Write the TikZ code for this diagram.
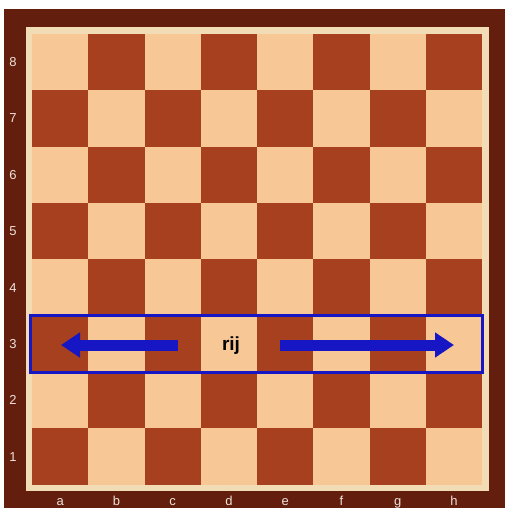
\documentclass[tikz,border=0pt]{standalone}
\usepackage{fontspec}
\setmainfont{Liberation Sans}
\usetikzlibrary{positioning, arrows.meta}

\definecolor{frameWood}{RGB}{100,30,13}
\definecolor{edgeWood}{RGB}{242,220,182}
\definecolor{lightSquare}{RGB}{248,199,150}
\definecolor{darkSquare}{RGB}{166,64,30}
\definecolor{markBlue}{RGB}{22,22,196}
\definecolor{labelGrey}{RGB}{236,226,216}

\begin{document}
\begin{tikzpicture}[
    x=1pt, y=-1pt,
    square/.style={
        minimum width=56.25pt,
        minimum height=56.35pt,
        inner sep=0pt,
        draw=none
    },
    coordlabel/.style={
        text=labelGrey,
        font=\fontsize{13}{13}\selectfont,
        inner sep=0pt
    },
    rowbox/.style={
        draw=markBlue,
        line width=3pt,
        minimum width=452pt,
        minimum height=57pt,
        inner sep=0pt
    },
    moveline/.style={
        draw=markBlue,
        line width=11pt,
        -{Triangle[length=19pt,width=24pt]}
    }
]

\useasboundingbox (0,0) rectangle (505,508);
\fill[white] (0,0) rectangle (505,508);
\fill[frameWood] (4,9) rectangle (505,508);
\fill[edgeWood] (26,27) rectangle (489,491);

% the 64 squares, a1 dark
\foreach \f in {0,...,7}
  \foreach \r in {1,...,8} {
    \pgfmathtruncatemacro\odd{mod(\f+\r,2)}
    \ifnum\odd=1
      \node[square, fill=darkSquare] (sq-\f-\r)
        at ({32+(\f+0.5)*56.25}, {34+(8-\r+0.5)*56.35}) {};
    \else
      \node[square, fill=lightSquare] (sq-\f-\r)
        at ({32+(\f+0.5)*56.25}, {34+(8-\r+0.5)*56.35}) {};
    \fi
  }

% ranks and files
\foreach \r in {1,...,8}
  \node[coordlabel] (rank-\r) at (13, {34+(8-\r+0.5)*56.35}) {\r};
\foreach \l [count=\i from 0] in {a,b,c,d,e,f,g,h}
  \node[coordlabel, anchor=base] (file-\l) at ({32+(\i+0.5)*56.25}, 505.5) {\l};

% the marked row
\node[rowbox] (row) at (256.5,344) {};
\node[font=\fontsize{19}{19}\selectfont\bfseries, anchor=base] (rij) at (231,350) {rij};

\coordinate (leftstart) at (178,345);
\coordinate (lefttip) at (61,345);
\coordinate (rightstart) at (280,345);
\coordinate (righttip) at (454,345);

\draw[moveline] (leftstart) -- (lefttip);
\draw[moveline] (rightstart) -- (righttip);

\end{tikzpicture}
\end{document}
